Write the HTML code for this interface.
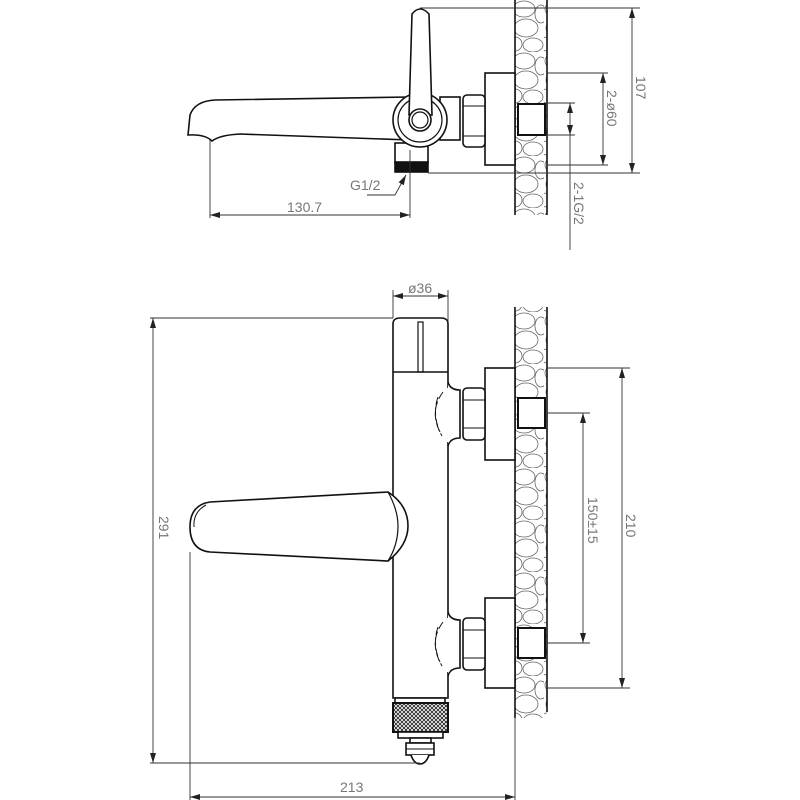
<!DOCTYPE html>
<html><head><meta charset="utf-8"><style>
html,body{margin:0;padding:0;background:#fff;}
svg{display:block;}
text{font-family:"Liberation Sans",sans-serif;fill:#777;font-size:14px;}
</style></head><body>
<svg width="800" height="800" viewBox="0 0 800 800" xmlns="http://www.w3.org/2000/svg">
<defs>
<pattern id="peb" width="32" height="52" patternUnits="userSpaceOnUse">
<g fill="none" stroke="#666" stroke-width="0.8">
<ellipse cx="12" cy="9" rx="11" ry="8"/><ellipse cx="29" cy="14" rx="6" ry="9"/>
<ellipse cx="14" cy="28" rx="12" ry="9"/><ellipse cx="3" cy="44" rx="7" ry="7"/>
<ellipse cx="21" cy="45" rx="10" ry="7"/>
</g></pattern>
<pattern id="knurl" width="4" height="4" patternUnits="userSpaceOnUse">
<rect width="4" height="4" fill="#fff"/><path d="M0 0L4 4M4 0L0 4" stroke="#222" stroke-width="0.9"/>
</pattern>
<marker id="a" markerWidth="10" markerHeight="6" refX="10" refY="3" orient="auto-start-reverse" markerUnits="userSpaceOnUse"><path d="M0 0L10 3L0 6z" fill="#222"/></marker>
</defs>

<!-- ============ TOP VIEW ============ -->
<g stroke="#111" fill="none" stroke-width="1.6">
<rect x="515" y="0" width="32" height="215" fill="url(#peb)" stroke="none"/>
<line x1="515" y1="0" x2="515" y2="215"/><line x1="547" y1="0" x2="547" y2="215"/>
<rect x="485" y="73" width="30" height="92" fill="#fff"/>
<rect x="518" y="104" width="27" height="31" fill="#fff" stroke-width="2"/>
<rect x="463" y="95" width="22" height="52" rx="4" fill="#fff"/>
<line x1="463" y1="106" x2="485" y2="106" stroke-width="1"/><line x1="463" y1="136" x2="485" y2="136" stroke-width="1"/>
<path d="M410 97 L215 100 Q195 101 190 115 L188 135 Q205 134 212 141 Q220 135 240 134 L410 140" fill="#fff"/>
<rect x="440" y="97" width="20" height="43" fill="#fff"/>
<rect x="395" y="143" width="33" height="20" fill="#fff"/>
<rect x="395" y="162" width="33" height="10" fill="#111"/>
<circle cx="420" cy="120" r="27" fill="#fff"/>
<circle cx="420" cy="120" r="22" stroke-width="1.2"/>
<path d="M412 14 Q420 4 429 14 L432 115 L409 115 Z" fill="#fff"/>
<circle cx="420" cy="120" r="11" fill="#fff"/>
<circle cx="420" cy="120" r="8" stroke-width="1.2"/>
</g>
<g stroke="#333" stroke-width="0.9" fill="none">
<line x1="210" y1="140" x2="210" y2="218"/><line x1="410" y1="150" x2="410" y2="218"/>
<line x1="210" y1="215" x2="410" y2="215" marker-start="url(#a)" marker-end="url(#a)"/>
<line x1="420" y1="8" x2="640" y2="8"/><line x1="428" y1="173" x2="640" y2="173"/>
<line x1="632" y1="8" x2="632" y2="173" marker-start="url(#a)" marker-end="url(#a)"/>
<line x1="547" y1="73" x2="608" y2="73"/><line x1="547" y1="165" x2="608" y2="165"/>
<line x1="603" y1="73" x2="603" y2="165" marker-start="url(#a)" marker-end="url(#a)"/>
<line x1="547" y1="103" x2="575" y2="103"/><line x1="547" y1="135" x2="575" y2="135"/>
<line x1="570" y1="103" x2="570" y2="250"/>
<line x1="570" y1="125" x2="570" y2="135" marker-end="url(#a)"/>
<line x1="570" y1="113" x2="570" y2="103" marker-end="url(#a)"/>
<polyline points="367,195 395,195 406,175" marker-end="url(#a)"/>
</g>
<text x="287" y="212">130.7</text>
<text x="350" y="190">G1/2</text>
<text transform="translate(636,76) rotate(90)">107</text>
<text transform="translate(607,90) rotate(90)">2-ø60</text>
<text transform="translate(574,182) rotate(90)">2-1G/2</text>

<!-- ============ FRONT VIEW ============ -->
<g stroke="#111" fill="none" stroke-width="1.6">
<rect x="515" y="307" width="32" height="411" fill="url(#peb)" stroke="none"/>
<line x1="515" y1="307" x2="515" y2="718"/><line x1="547" y1="307" x2="547" y2="712"/>
<rect x="485" y="368" width="30" height="92" fill="#fff"/>
<rect x="518" y="398" width="27" height="30" fill="#fff" stroke-width="2"/>
<rect x="463" y="388" width="22" height="52" rx="4" fill="#fff"/>
<line x1="463" y1="400" x2="485" y2="400" stroke-width="1"/><line x1="463" y1="428" x2="485" y2="428" stroke-width="1"/>
<rect x="485" y="598" width="30" height="90" fill="#fff"/>
<rect x="518" y="628" width="27" height="30" fill="#fff" stroke-width="2"/>
<rect x="463" y="618" width="22" height="52" rx="4" fill="#fff"/>
<line x1="463" y1="630" x2="485" y2="630" stroke-width="1"/><line x1="463" y1="658" x2="485" y2="658" stroke-width="1"/>
<!-- body -->
<path d="M393 698 L393 324 Q393 318 400 318 L441 318 Q448 318 448 324 L448 698 Z" fill="#fff"/>
<path d="M448 382 Q450 390 460 390 L460 438 Q450 438 448 446" fill="#fff"/>
<rect x="446.5" y="388" width="3" height="54" fill="#fff" stroke="none"/>
<path d="M448 612 Q450 620 460 620 L460 668 Q450 668 448 676" fill="#fff"/>
<rect x="446.5" y="618" width="3" height="54" fill="#fff" stroke="none"/>
<line x1="393" y1="372" x2="448" y2="372"/>
<rect x="418" y="322" width="5" height="50" stroke-width="1.2"/>
<path d="M443 392 Q428 412 442 436 M438 397 Q432 414 440 432" stroke-width="1" stroke-dasharray="8 3"/>
<path d="M443 622 Q428 642 442 666 M438 627 Q432 644 440 662" stroke-width="1" stroke-dasharray="8 3"/>
<rect x="395" y="698" width="50" height="5" fill="#fff"/>
<rect x="393" y="703" width="55" height="29" fill="url(#knurl)" stroke-width="2"/>
<rect x="398" y="732" width="45" height="6" fill="#fff"/>
<rect x="410" y="738" width="21" height="5" fill="#fff"/>
<rect x="406" y="743" width="28" height="12" fill="#fff"/>
<line x1="406" y1="749" x2="434" y2="749" stroke-width="1"/>
<path d="M411 755 Q414 764 420 764 Q426 764 429 755" fill="#fff"/>
<path d="M388 492 L210 502 Q190 505 190 527 Q190 550 210 552 L388 561 Q408 545 408 526 Q408 505 388 492 Z" fill="#fff"/>
<path d="M388 492 Q398 510 398 526 Q398 545 388 561" stroke-width="1.2"/>
<path d="M206 505 Q193 512 194 527" stroke-width="1"/>
</g>
<g stroke="#333" stroke-width="0.9" fill="none">
<line x1="393" y1="290" x2="393" y2="318"/><line x1="448" y1="290" x2="448" y2="322"/>
<line x1="393" y1="296" x2="448" y2="296" marker-start="url(#a)" marker-end="url(#a)"/>
<line x1="150" y1="318" x2="393" y2="318"/><line x1="150" y1="763" x2="420" y2="763"/>
<line x1="153" y1="318" x2="153" y2="763" marker-start="url(#a)" marker-end="url(#a)"/>
<line x1="190" y1="552" x2="190" y2="800"/><line x1="515" y1="718" x2="515" y2="800"/>
<line x1="190" y1="797" x2="515" y2="797" marker-start="url(#a)" marker-end="url(#a)"/>
<line x1="547" y1="368" x2="630" y2="368"/><line x1="547" y1="688" x2="630" y2="688"/>
<line x1="622" y1="368" x2="622" y2="688" marker-start="url(#a)" marker-end="url(#a)"/>
<line x1="547" y1="413" x2="590" y2="413"/><line x1="547" y1="643" x2="590" y2="643"/>
<line x1="583" y1="413" x2="583" y2="643" marker-start="url(#a)" marker-end="url(#a)"/>
</g>
<text x="408" y="293" font-size="11">ø36</text>
<text transform="translate(159,516) rotate(90)">291</text>
<text x="340" y="792">213</text>
<text transform="translate(626,514) rotate(90)">210</text>
<text transform="translate(588,497) rotate(90)">150±15</text>
</svg>
</body></html>
